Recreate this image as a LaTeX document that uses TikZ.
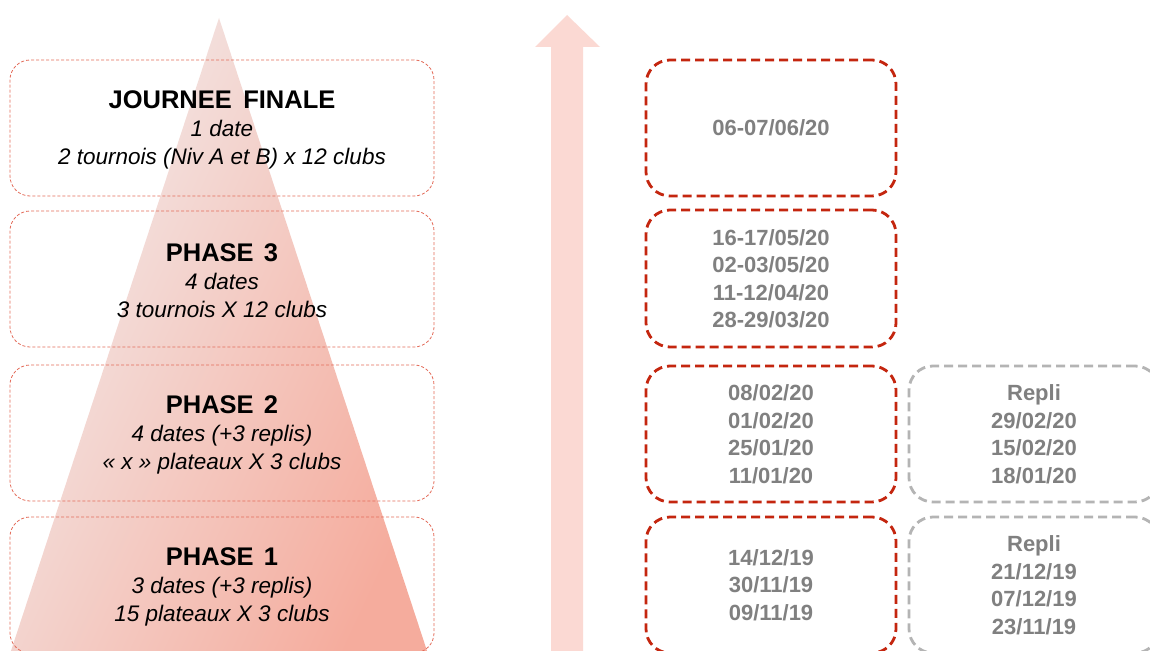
\documentclass[tikz,border=0pt]{standalone}
\usepackage{fontspec}
\setmainfont{Liberation Sans}
\definecolor{phasered}{HTML}{E46C5A}
\definecolor{datered}{HTML}{C4260F}
\definecolor{repligrey}{HTML}{B4B4B4}
\definecolor{txtgrey}{HTML}{808080}
\definecolor{arrowpink}{HTML}{FBD9D3}
\definecolor{triLight}{HTML}{F2ECEC}
\definecolor{triDark}{HTML}{F5AC9D}
\tikzset{
  phasebox/.style={draw=phasered, line width=0.8pt, dash pattern=on 3pt off 2pt,
    rounded corners=20pt, minimum width=424pt, inner sep=0pt, align=center,
    font=\fontsize{22.5}{28}\selectfont\itshape},
  datebox/.style={draw=datered, line width=2.8pt, dash pattern=on 9pt off 5pt,
    rounded corners=24pt, minimum width=250pt, inner sep=0pt, align=center,
    text=txtgrey, font=\fontsize{22}{27.5}\selectfont\bfseries},
  replibox/.style={datebox, draw=repligrey}
}
\newcommand{\hd}[1]{{\upshape\bfseries\fontsize{25.5}{29}\selectfont #1}}
\begin{document}
\begin{tikzpicture}[x=1pt,y=-1pt]
\useasboundingbox (0,0) rectangle (1150,650);
\clip (0,0) rectangle (1150,650);
\fill[white] (0,0) rectangle (1150,650);
% pyramid
\shade[left color=triLight, right color=triDark, shading angle=65]
  (219,18) -- (8,660) -- (430,660) -- cycle;
% arrow
\fill[arrowpink] (551,660) -- (551,47) -- (535,47) -- (567,15) -- (600,47) -- (583,47) -- (583,660) -- cycle;
% left phase boxes
\node[phasebox, minimum height=136pt] (j1) at (222,128) {};
\node[phasebox, minimum height=136pt] (p3) at (222,279) {};
\node[phasebox, minimum height=136pt] (p2) at (222,433) {};
\node[phasebox, minimum height=136pt] (p1) at (222,585) {};
\node[align=center, font=\fontsize{22.5}{28}\selectfont\itshape] at ([yshift=-2pt]j1.center)
  {\hd{JOURNEE\hspace{0.45em}FINALE}\\1 date\\2 tournois (Niv A et B) x 12 clubs};
\node[align=center, font=\fontsize{22.5}{28}\selectfont\itshape] at ([yshift=-2pt]p3.center)
  {\hd{PHASE\hspace{0.4em}3}\\4 dates\\3 tournois X 12 clubs};
\node[align=center, font=\fontsize{22.5}{28}\selectfont\itshape] at ([yshift=-2pt]p2.center)
  {\hd{PHASE\hspace{0.4em}2}\\4 dates (+3 replis)\\« x » plateaux X 3 clubs};
\node[align=center, font=\fontsize{22.5}{28}\selectfont\itshape] at ([yshift=-2pt]p1.center)
  {\hd{PHASE\hspace{0.4em}1}\\3 dates (+3 replis)\\15 plateaux X 3 clubs};
% date boxes
\node[datebox, minimum height=136pt] (dA) at (771,128) {06-07/06/20};
\node[datebox, minimum height=137pt] (dB) at (771,278.5)
  {16-17/05/20\\02-03/05/20\\11-12/04/20\\28-29/03/20};
\node[datebox, minimum height=136pt] (dC) at (771,434)
  {08/02/20\\01/02/20\\25/01/20\\11/01/20};
\node[datebox, minimum height=136pt] (dD) at (771,585)
  {14/12/19\\30/11/19\\09/11/19};
% repli boxes
\node[replibox, minimum height=136pt] (rE) at (1034,434)
  {Repli\\29/02/20\\15/02/20\\18/01/20};
\node[replibox, minimum height=136pt] (rF) at (1034,585)
  {Repli\\21/12/19\\07/12/19\\23/11/19};
\end{tikzpicture}
\end{document}
